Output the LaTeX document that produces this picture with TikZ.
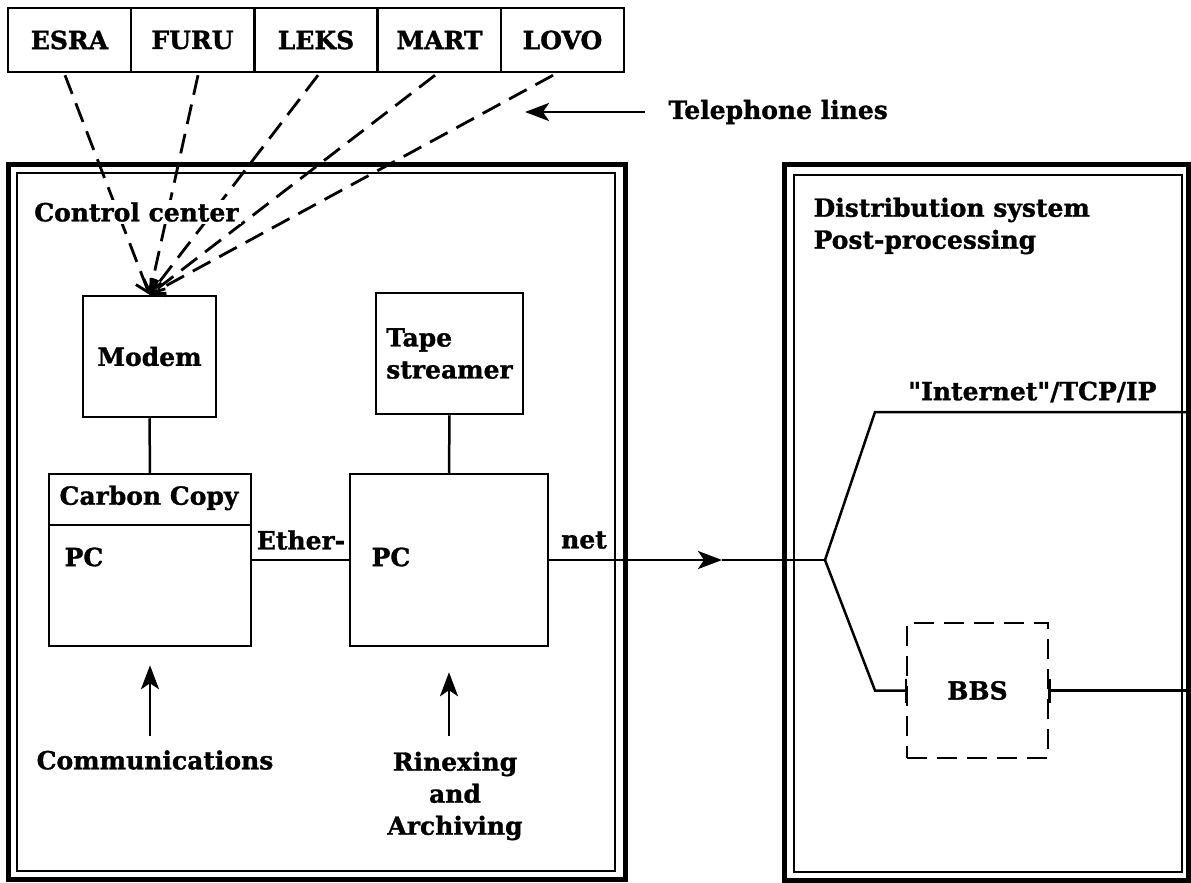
\documentclass[tikz,border=0pt]{standalone}
\usepackage{fontspec}
\setmainfont{DejaVu Serif}[Ligatures=TeXOff,BoldFeatures={FakeBold=1.2}]
\usetikzlibrary{arrows.meta,calc}

\begin{document}
\begin{tikzpicture}[x=1pt,y=-1pt,line width=2.5pt,
        every node/.style={font=\bfseries\fontsize{25}{32}\selectfont},
        station/.style={draw,minimum width=123pt,minimum height=64pt,inner sep=0pt},
        box/.style={draw,inner sep=0pt},
        telline/.style={dash pattern=on 20pt off 10pt,line width=2.8pt,-{Straight Barb[length=12pt,width=18pt]}},
        arr/.style={-{Stealth[length=24pt,width=18pt,inset=6pt]}}]
        \useasboundingbox (0,0) rectangle (1191,883);
        % the two centres
        \draw[line width=5pt] (8,164) rectangle (625,879);
        \draw[line width=2pt] (17,173) rectangle (615,871);
        \draw[line width=5pt] (784,164) rectangle (1188,880);
        \draw[line width=2pt] (794,175) rectangle (1182,872);
        % stations
        \node[station] (esra) at (69.5,40) {ESRA};
        \node[station] (furu) at (192.5,40) {FURU};
        \node[station] (leks) at (316,40) {LEKS};
        \node[station] (mart) at (439.5,40) {MART};
        \node[station] (lovo) at (562.5,40) {LOVO};
        \node[anchor=west] (tel) at (664,112) {Telephone lines};
        \coordinate (telhead) at (525,112);
        \draw[arr,shorten <=19pt] (tel.west) -- (telhead);
        % control center
        \node[box,minimum width=133pt,minimum height=121pt] (modem) at (149.5,356.5) {Modem};
        \draw[telline] ($(esra.south)+(-4.5,2)$) -- (modem.north);
        \draw[telline] ($(furu.south)+(5.5,2)$) -- (modem.north);
        \draw[telline] ($(leks.south)+(2,2)$) -- (modem.north);
        \draw[telline] ($(mart.south)+(-4.5,2)$) -- (modem.north);
        \draw[telline] ($(lovo.south)+(-9.5,2)$) -- (modem.north);
        \node[anchor=west,fill=white,inner sep=2pt] (control) at (31,212) {Control center};
        \node[box,minimum width=147pt,minimum height=121pt,align=left] (tape) at (449.5,353.5) {Tape\\streamer};
        \node[box,minimum width=202pt,minimum height=172pt] (cc) at (150,560) {};
        \draw ([yshift=-52pt]cc.north west) -- ([yshift=-52pt]cc.north east);
        \node (cctext) at (149,498) {Carbon Copy};
        \node[anchor=west] (ccpc) at (60,557) {PC};
        \node[box,minimum width=198pt,minimum height=172pt] (pc) at (449,560) {};
        \node[anchor=west] (pctext) at (367,557) {PC};
        \draw (modem.south) -- (cc.north);
        \draw (tape.south) -- (pc.north);
        \draw (cc.east) -- (pc.west);
        \node (ether) at (301,540) {Ether-};
        \node (net) at (584,540) {net};
        \node (comm) at (155,760) {Communications};
        \draw[arr,shorten <=10pt,shorten >=18pt] (comm.north -| cc.south) -- (cc.south);
        \node[align=center] (rinex) at (455,796) {Rinexing\\and\\Archiving};
        \draw[arr,shorten <=11pt,shorten >=25pt] (rinex.north -| pc.south) -- (pc.south);
        % distribution system
        \node[anchor=west,align=left] (dist) at (809,226) {Distribution system\\Post-processing};
        \coordinate (nethead) at (722,560);
        \coordinate (split) at (825,560);
        \draw[arr] (pc.east) -- (nethead);
        \draw (nethead) -- (split);
        \coordinate (inetbend) at (875,412);
        \coordinate (inetend) at (1188,412);
        \draw (split) -- (inetbend) -- (inetend);
        \node[anchor=east] (inet) at (1161,392) {"Internet"/TCP/IP};
        \node[box,dash pattern=on 20pt off 10pt,minimum width=141pt,minimum height=135pt] (bbs) at (977.5,690.5) {BBS};
        \coordinate (bbsbend) at (875,690.5);
        \coordinate (bbsend) at (1188,690.5);
        \draw (split) -- (bbsbend) -- (bbs.west);
        \draw (bbs.east) -- (bbsend);
        \draw ([yshift=12pt]bbs.west) -- ([yshift=-12pt]bbs.west);
        \draw ([yshift=12pt]bbs.east) -- ([yshift=-12pt]bbs.east);
    \end{tikzpicture}
\end{document}
